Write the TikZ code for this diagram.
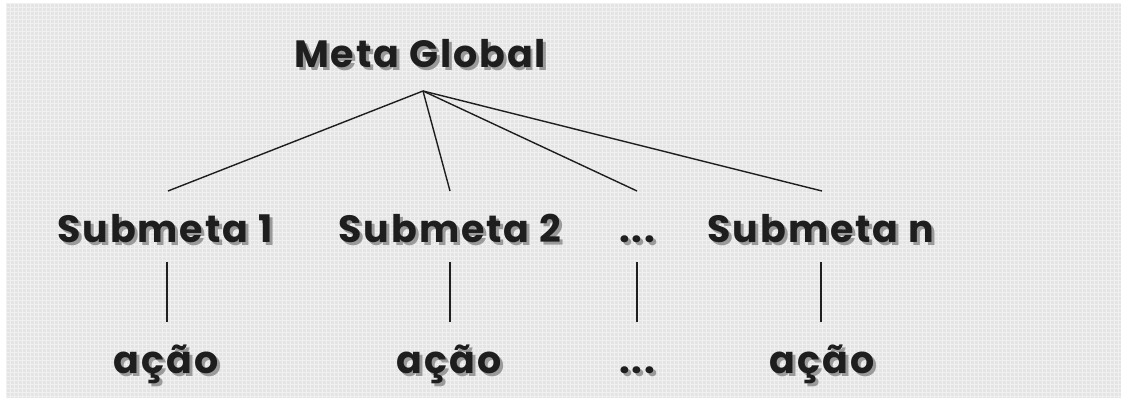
\documentclass[tikz,border=0pt]{standalone}
\usepackage{fontspec}
\setmainfont{Poppins}[LetterSpace=5]
\definecolor{bgc}{HTML}{E4E4E4}
\definecolor{gridc}{HTML}{F0F0F0}
\definecolor{textc}{HTML}{1E1E1E}
\definecolor{shadc}{HTML}{9A9A9A}
\newcommand{\shd}[1]{\makebox[0pt][l]{\kern3pt\raisebox{-3pt}{\textcolor{shadc}{#1}}}#1}
\tikzset{
  lbl/.style={font=\fontsize{38}{40}\selectfont\bfseries, text=textc, inner sep=0pt, anchor=base},
  link/.style={draw=textc, line width=1.4pt},
}
\begin{document}
\begin{tikzpicture}[x=1pt,y=-1pt]
\useasboundingbox (0,0) rectangle (1121,401);
\fill[white] (0,0) rectangle (1121,401);
\fill[bgc] (6,4) rectangle (1121,398);
\foreach \i in {0,...,278} {\draw[gridc, line width=1pt] ({6+4*\i},4) -- ({6+4*\i},398);}
\foreach \j in {0,...,98} {\draw[gridc, line width=1pt] (6,{4+4*\j}) -- (1121,{4+4*\j});}
% labels
\node[lbl] (mg) at (420,68) {\shd{Meta Global}};
\node[lbl] (s1) at (165,242) {\shd{Submeta\ 1}};
\node[lbl] (s2) at (450,242) {\shd{Submeta\ 2}};
\node[lbl] (sd) at (637,242) {\shd{...}};
\node[lbl] (sn) at (821,242) {\shd{Submeta\ n}};
\node[lbl] (a1) at (166,373) {\shd{ação}};
\node[lbl] (a2) at (449,373) {\shd{ação}};
\node[lbl] (ad) at (637,373) {\shd{...}};
\node[lbl] (an) at (822,373) {\shd{ação}};
% connector ends
\coordinate (apex) at (423,91);
\coordinate (t1) at (168,191);
\coordinate (t2) at (450,191);
\coordinate (td) at (637,191);
\coordinate (tn) at (822,191);
\coordinate (u1) at (167,262);
\coordinate (u2) at (450,262);
\coordinate (ud) at (637,262);
\coordinate (un) at (821,262);
\coordinate (l1) at (167,322);
\coordinate (l2) at (450,322);
\coordinate (ld) at (637,322);
\coordinate (ln) at (821,322);
\draw[link] (apex) -- (t1);
\draw[link] (apex) -- (t2);
\draw[link] (apex) -- (td);
\draw[link] (apex) -- (tn);
\draw[link] (u1) -- (l1);
\draw[link] (u2) -- (l2);
\draw[link] (ud) -- (ld);
\draw[link] (un) -- (ln);
\end{tikzpicture}
\end{document}
